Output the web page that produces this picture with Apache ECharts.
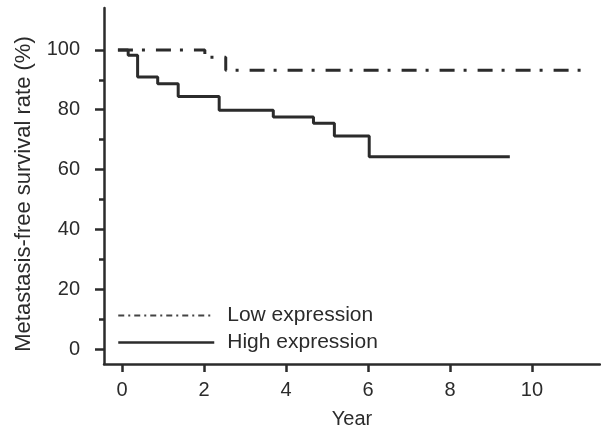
<!DOCTYPE html>
<html>
<head>
<meta charset="utf-8">
<script src="https://cdn.jsdelivr.net/npm/echarts@6/dist/echarts.min.js"></script>
<style>
html, body { margin: 0; padding: 0; background: #fff; }
#chart { width: 601px; height: 434px; }
</style>
</head>
<body>
<div id="chart"></div>
<script>
// 数据
var seriesNames = ['Low expression', 'High expression'];
var lowTimes = [-0.1, 2.02, 2.53, 11.2];
var lowRates = [100, 97.5, 93.2, 93.2];
var highTimes = [-0.1, 0.15, 0.38, 0.87, 1.37, 2.37, 3.69, 4.67, 5.18, 6.03, 9.46];
var highRates = [100, 98.2, 90.9, 88.7, 84.4, 79.8, 77.6, 75.5, 71.2, 64.3, 64.3];
var xTicks = [0, 2, 4, 6, 8, 10];
var yTicks = [0, 20, 40, 60, 80, 100];
var yMinorTicks = [10, 30, 50, 70, 90];

var font = 'Liberation Sans, Arial, sans-serif';
var ink = '#2b2b2b';

function pairs(xs, ys) {
	return xs.map(function(x, i) { return [x, ys[i]]; });
}

var chart = echarts.init(document.getElementById('chart'));
var option = {
	animation: false,
	backgroundColor: '#fff',
	textStyle: { fontFamily: font },
	grid: { left: 104, right: 1, top: 8, bottom: 66, containLabel: false },
	legend: {
		orient: 'vertical',
		left: 112,
		top: 300,
		itemWidth: 96,
		itemHeight: 14,
		itemGap: 6,
		textStyle: { fontFamily: font, fontSize: 21, color: ink, padding: [0, 0, 0, 8] },
		data: [
			{ name: seriesNames[0], itemStyle: { opacity: 0 }, lineStyle: { type: [6, 4, 2, 4], width: 1.8, color: '#444' } },
			{ name: seriesNames[1], itemStyle: { opacity: 0 }, lineStyle: { type: 'solid', width: 2.5, color: ink } }
		]
	},
	xAxis: {
		type: 'value',
		min: -0.44,
		max: 11.66,
		name: 'Year',
		nameLocation: 'middle',
		nameGap: 45,
		nameTextStyle: { fontFamily: font, fontSize: 20, color: ink },
		splitLine: { show: false },
		axisLine: { show: true, onZero: false, lineStyle: { color: ink, width: 2.5 } },
		axisTick: { show: true, inside: false, length: 8, customValues: xTicks, lineStyle: { color: ink, width: 2.5 } },
		axisLabel: { customValues: xTicks, margin: 16, fontFamily: font, fontSize: 20, color: ink }
	},
	yAxis: [{
		type: 'value',
		min: -5,
		max: 114,
		name: 'Metastasis-free survival rate (%)',
		nameLocation: 'middle',
		nameGap: 69,
		nameTextStyle: { fontFamily: font, fontSize: 22, color: ink, padding: [0, 16, 0, 0] },
		splitLine: { show: false },
		axisLine: { show: true, onZero: false, lineStyle: { color: ink, width: 2.5 } },
		axisTick: { show: true, length: 9, customValues: yTicks, lineStyle: { color: ink, width: 2.5 } },
		axisLabel: { customValues: yTicks, margin: 24, fontFamily: font, fontSize: 20, color: ink }
	}, {
		// 次刻度
		type: 'value',
		min: -5,
		max: 114,
		position: 'left',
		splitLine: { show: false },
		axisLine: { show: false, onZero: false },
		axisTick: { show: true, length: 5, customValues: yMinorTicks, lineStyle: { color: ink, width: 2.5 } },
		axisLabel: { show: false }
	}],
	series: [{
		name: seriesNames[0],
		type: 'line',
		step: 'end',
		symbol: 'none',
		lineStyle: { color: ink, width: 3, type: [15, 9, 3, 11] },
		itemStyle: { color: ink },
		data: pairs(lowTimes, lowRates)
	}, {
		name: seriesNames[1],
		type: 'line',
		step: 'end',
		symbol: 'none',
		lineStyle: { color: ink, width: 3, type: 'solid' },
		itemStyle: { color: ink },
		data: pairs(highTimes, highRates)
	}]
};
chart.setOption(option);
</script>
</body>
</html>
